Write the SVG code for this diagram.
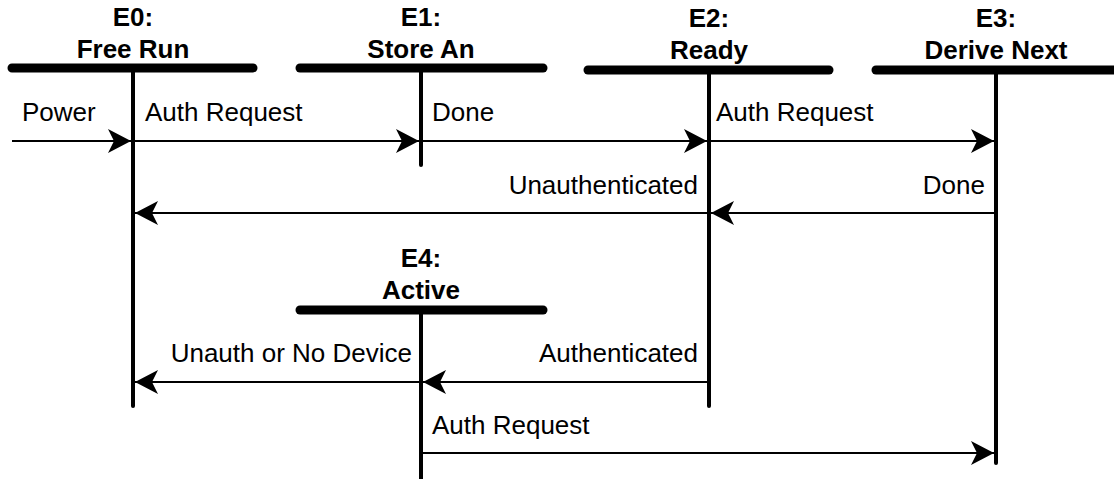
<svg xmlns="http://www.w3.org/2000/svg" width="1114" height="479" viewBox="0 0 1114 479">
<style>
.bar{stroke:#000;stroke-width:9;stroke-linecap:round;fill:none}
.life{stroke:#000;stroke-width:4;stroke-linecap:round;fill:none}
.msg{stroke:#000;stroke-width:2;fill:none;marker-end:url(#ah)}
.title{font-family:"Liberation Sans",Arial,sans-serif;font-size:26px;font-weight:bold;text-anchor:middle;fill:#000}
.lbl{font-family:"Liberation Sans",Arial,sans-serif;font-size:26px;fill:#000}
.r{text-anchor:end}
</style>
<defs>
<marker id="ah" markerUnits="userSpaceOnUse" markerWidth="26" markerHeight="26" viewBox="-24 -13 26 26" refX="0" refY="0" orient="auto">
<path d="M0,0 L-23,-12 L-17,0 L-23,12 Z" fill="#000"/>
</marker>
</defs>
<g id="E0">
<line class="bar" x1="12" y1="68" x2="253" y2="68"/>
<line class="life" x1="133" y1="68" x2="133" y2="406"/>
<text class="title" x="133" y="26">E0:</text>
<text class="title" x="133" y="58">Free Run</text>
</g>
<g id="E1">
<line class="bar" x1="300" y1="68" x2="543" y2="68"/>
<line class="life" x1="421" y1="68" x2="421" y2="165"/>
<text class="title" x="421" y="26">E1:</text>
<text class="title" x="421" y="58">Store An</text>
</g>
<g id="E2">
<line class="bar" x1="588" y1="70" x2="829" y2="70"/>
<line class="life" x1="709" y1="70" x2="709" y2="406"/>
<text class="title" x="709" y="27">E2:</text>
<text class="title" x="709" y="59">Ready</text>
</g>
<g id="E3">
<line class="bar" x1="876" y1="70" x2="1122" y2="70"/>
<line class="life" x1="996" y1="70" x2="996" y2="463"/>
<text class="title" x="996" y="27">E3:</text>
<text class="title" x="996" y="59">Derive Next</text>
</g>
<g id="E4">
<line class="bar" x1="300" y1="310" x2="543" y2="310"/>
<line class="life" x1="421" y1="310" x2="421" y2="480"/>
<text class="title" x="421" y="267">E4:</text>
<text class="title" x="421" y="299">Active</text>
</g>
<g id="connectors">
<line class="msg" x1="12" y1="141" x2="131" y2="141"/>
<line class="msg" x1="135" y1="141" x2="419" y2="141"/>
<line class="msg" x1="423" y1="141" x2="707" y2="141"/>
<line class="msg" x1="711" y1="141" x2="994" y2="141"/>
<line class="msg" x1="994" y1="213" x2="711" y2="213"/>
<line class="msg" x1="707" y1="213" x2="135" y2="213"/>
<line class="msg" x1="707" y1="382" x2="423" y2="382"/>
<line class="msg" x1="419" y1="382" x2="135" y2="382"/>
<line class="msg" x1="423" y1="453" x2="994" y2="453"/>
<text class="lbl" x="22" y="121">Power</text>
<text class="lbl" x="145" y="121">Auth Request</text>
<text class="lbl" x="432" y="121">Done</text>
<text class="lbl" x="716" y="121">Auth Request</text>
<text class="lbl r" x="698" y="194">Unauthenticated</text>
<text class="lbl r" x="985" y="194">Done</text>
<text class="lbl r" x="412" y="362">Unauth or No Device</text>
<text class="lbl r" x="698" y="362">Authenticated</text>
<text class="lbl" x="432" y="434">Auth Request</text>
</g>
</svg>
